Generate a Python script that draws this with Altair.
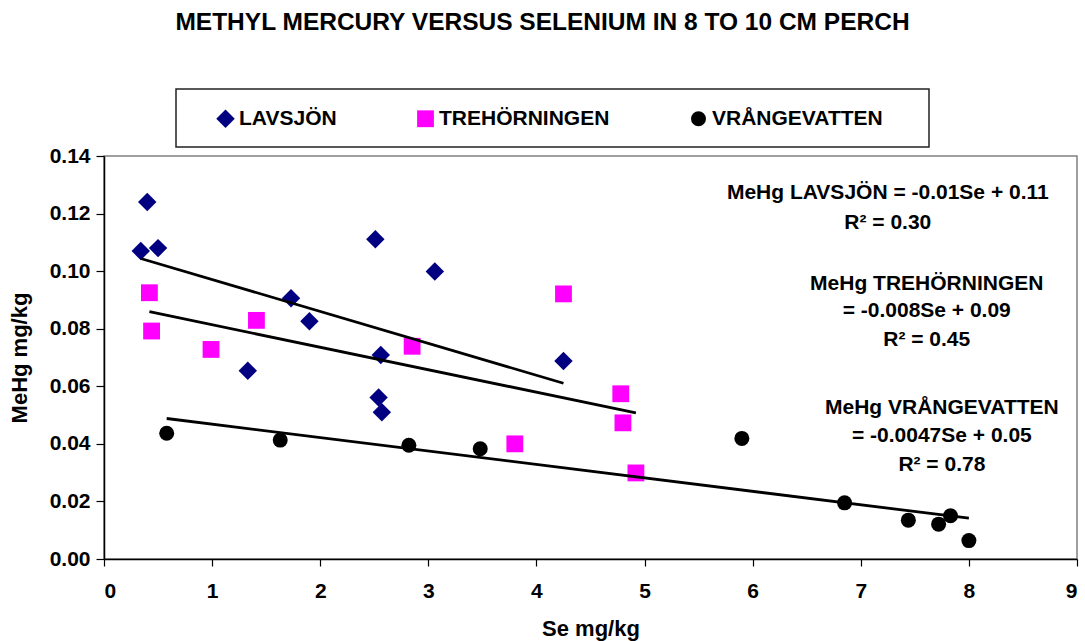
import altair as alt
import pandas as pd

# ---- data ----
lakes = ["LAVSJÖN", "TREHÖRNINGEN", "VRÅNGEVATTEN"]

lav_se = [0.34, 0.40, 0.50, 1.33, 1.73, 1.90, 2.51, 2.54, 2.56, 2.57, 3.06, 4.25]
lav_mehg = [0.107, 0.124, 0.108, 0.0654, 0.0906, 0.0826, 0.1111, 0.0561, 0.0709, 0.0510, 0.0999, 0.0688]

tre_se = [0.42, 0.44, 0.99, 1.41, 2.85, 3.80, 4.25, 4.78, 4.80, 4.92]
tre_mehg = [0.0925, 0.0792, 0.0728, 0.0829, 0.0739, 0.0400, 0.0921, 0.0574, 0.0473, 0.0299]

vra_se = [0.58, 1.63, 2.82, 3.48, 5.90, 6.85, 7.44, 7.72, 7.83, 8.00]
vra_mehg = [0.0437, 0.0413, 0.0395, 0.0383, 0.0419, 0.0195, 0.0135, 0.0121, 0.0150, 0.0064]

ann_text = [
    "MeHg LAVSJÖN = -0.01Se + 0.11", "R² = 0.30",
    "MeHg TREHÖRNINGEN", "= -0.008Se + 0.09", "R² = 0.45",
    "MeHg VRÅNGEVATTEN", "= -0.0047Se + 0.05", "R² = 0.78",
]
ann_x = [7.25, 7.25, 7.61, 7.61, 7.61, 7.75, 7.75, 7.75]
ann_y = [0.1271, 0.1167, 0.0955, 0.0862, 0.0761, 0.0525, 0.0427, 0.0327]

y_ticks = [0, 0.02, 0.04, 0.06, 0.08, 0.10, 0.12, 0.14]
x_ticks = list(range(0, 10))

# ---- tables ----
df = pd.DataFrame(
    {
        "Se": lav_se + tre_se + vra_se,
        "MeHg": lav_mehg + tre_mehg + vra_mehg,
        "Lake": [lakes[0]] * len(lav_se) + [lakes[1]] * len(tre_se) + [lakes[2]] * len(vra_se),
    }
)
ann = pd.DataFrame({"x": ann_x, "y": ann_y, "text": ann_text})

FONT = "Liberation Sans"

xscale = alt.Scale(domain=[0, 9], nice=False)
yscale = alt.Scale(domain=[0, 0.14], nice=False)

x_enc = alt.X(
    "Se:Q",
    scale=xscale,
    axis=alt.Axis(values=x_ticks, format="d", title="Se mg/kg"),
)
y_enc = alt.Y(
    "MeHg:Q",
    scale=yscale,
    axis=alt.Axis(values=y_ticks, format=".2f", title="MeHg mg/kg"),
)

legend = alt.Legend(
    title=None,
    orient="none",
    direction="horizontal",
    legendX=111,
    legendY=-48,
    labelFont=FONT,
    labelFontSize=21,
    labelFontWeight="bold",
    labelColor="black",
    labelLimit=400,
    symbolSize=190,
    symbolStrokeWidth=0,
    columnPadding=78,
    labelOffset=3,
    padding=0,
)

points = (
    alt.Chart(df)
    .mark_point(filled=True, opacity=1, strokeWidth=0)
    .encode(
        x=x_enc,
        y=y_enc,
        shape=alt.Shape(
            "Lake:N",
            scale=alt.Scale(domain=lakes, range=["diamond", "square", "circle"]),
            legend=legend,
        ),
        color=alt.Color(
            "Lake:N",
            scale=alt.Scale(domain=lakes, range=["#000080", "#FF00FF", "#000000"]),
            legend=legend,
        ),
        size=alt.Size(
            "Lake:N",
            scale=alt.Scale(domain=lakes, range=[340, 225, 225]),
            legend=None,
        ),
    )
)

lines = (
    alt.Chart(df)
    .transform_regression("Se", "MeHg", groupby=["Lake"])
    .mark_line(color="black", strokeWidth=2.8)
    .encode(x=alt.X("Se:Q", scale=xscale), y=alt.Y("MeHg:Q", scale=yscale), detail="Lake:N")
)

labels = (
    alt.Chart(ann)
    .mark_text(font=FONT, fontSize=21, fontWeight="bold", color="black", align="center", baseline="middle")
    .encode(x=alt.X("x:Q", scale=xscale), y=alt.Y("y:Q", scale=yscale), text="text:N")
)

legend_box = (
    alt.Chart(pd.DataFrame({"k": [0]}))
    .mark_rect(fill=None, stroke="#222222", strokeWidth=1.5)
    .encode(x=alt.value(72), x2=alt.value(825), y=alt.value(-67), y2=alt.value(-9))
)

chart = (
    alt.layer(legend_box, points, lines, labels)
    .properties(
        width=973,
        height=403,
        autosize=alt.AutoSizeParams(type="none"),
        padding={"left": 104, "top": 156, "right": 8, "bottom": 82},
        title=alt.TitleParams(
            "METHYL MERCURY VERSUS SELENIUM IN 8 TO 10 CM PERCH",
            font=FONT,
            fontSize=24.5,
            fontWeight="bold",
            color="black",
            anchor="middle",
            dx=-48,
            offset=53,
        ),
    )
    .configure_view(stroke="#808080", strokeWidth=1.5)
    .configure_axis(
        grid=False,
        domainColor="black",
        domainWidth=1.5,
        tickColor="black",
        tickWidth=1.2,
        labelFont=FONT,
        labelFontSize=21,
        labelFontWeight="bold",
        labelColor="black",
        titleFont=FONT,
        titleFontSize=22,
        titleFontWeight="bold",
        titleColor="black",
    )
    .configure_axisX(tickSize=7, labelPadding=14, titlePadding=17)
    .configure_axisY(tickSize=8, labelPadding=6, titlePadding=18)
)

chart.save("out.html", embed_options={"renderer": "svg", "actions": False})
